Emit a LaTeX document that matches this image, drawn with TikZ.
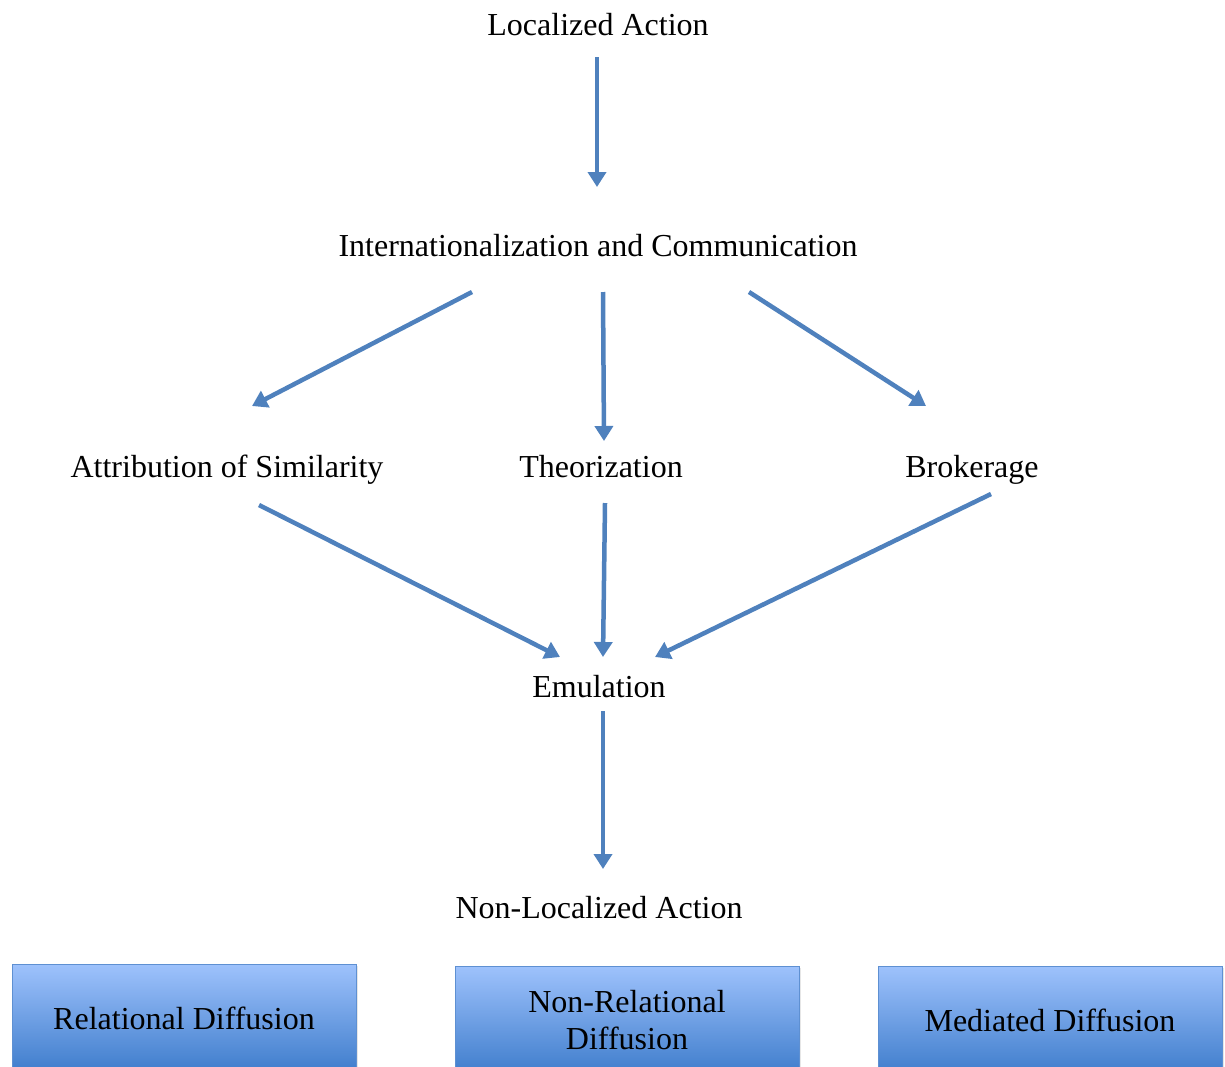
\documentclass[tikz,border=0pt]{standalone}
\usepackage{fontspec}
\setmainfont{Liberation Serif}
\usetikzlibrary{arrows.meta,shadows}

\definecolor{AR}{HTML}{4F81BD}
\definecolor{BT}{HTML}{9EC2FC}
\definecolor{BB}{HTML}{3F7DCC}
\definecolor{BL}{HTML}{5E90D2}

\begin{document}
\begin{tikzpicture}[x=1pt, y=-1pt,
    every node/.style={font=\fontsize{32}{37}\selectfont, inner sep=0pt, text height=28pt, text depth=7pt},
    flow/.style={draw=AR, line width=4.5pt, -{Triangle[width=18pt,length=15pt]}},
    box/.style={draw=BL, line width=1pt, top color=BT, bottom color=BB, minimum width=344pt, minimum height=108pt,
        align=center, text height=, text depth=, drop shadow={opacity=0.2, shadow xshift=2pt, shadow yshift=-2pt}}]
    \useasboundingbox (0,0) rectangle (1225,1066);
    \node (LA) at (598, 25) {Localized Action};
    \node (IC) at (598, 246) {Internationalization and Communication};
    \node (AS) at (227, 467) {Attribution of Similarity};
    \node (TH) at (601, 467) {Theorization};
    \node (BR) at (972, 467) {Brokerage};
    \node (EM) at (599, 687) {Emulation};
    \node (NL) at (599, 908) {Non-Localized Action};
    \draw[flow] ([shift={(-1,32)}]LA.center) -- ([shift={(-1,-59)}]IC.center);
    \draw[flow] ([shift={(-126,46)}]IC.center) -- ([shift={(25,-61)}]AS.center);
    \draw[flow] ([shift={(5,46)}]IC.center) -- ([shift={(3,-26)}]TH.center);
    \draw[flow] ([shift={(151,46)}]IC.center) -- ([shift={(-46,-61)}]BR.center);
    \draw[flow] ([shift={(32,38)}]AS.center) -- ([shift={(-39,-30)}]EM.center);
    \draw[flow] ([shift={(4,36)}]TH.center) -- ([shift={(4,-30)}]EM.center);
    \draw[flow] ([shift={(19,27)}]BR.center) -- ([shift={(56,-30)}]EM.center);
    \draw[flow] ([shift={(4,24)}]EM.center) -- ([shift={(4,-39)}]NL.center);
    % diffusion types
    \node[box] (RD) at (184, 1018) {Relational Diffusion};
    \node[box] (ND) at (627, 1020) {Non-Relational\\Diffusion};
    \node[box] (MD) at (1050, 1020) {Mediated Diffusion};
\end{tikzpicture}
\end{document}
